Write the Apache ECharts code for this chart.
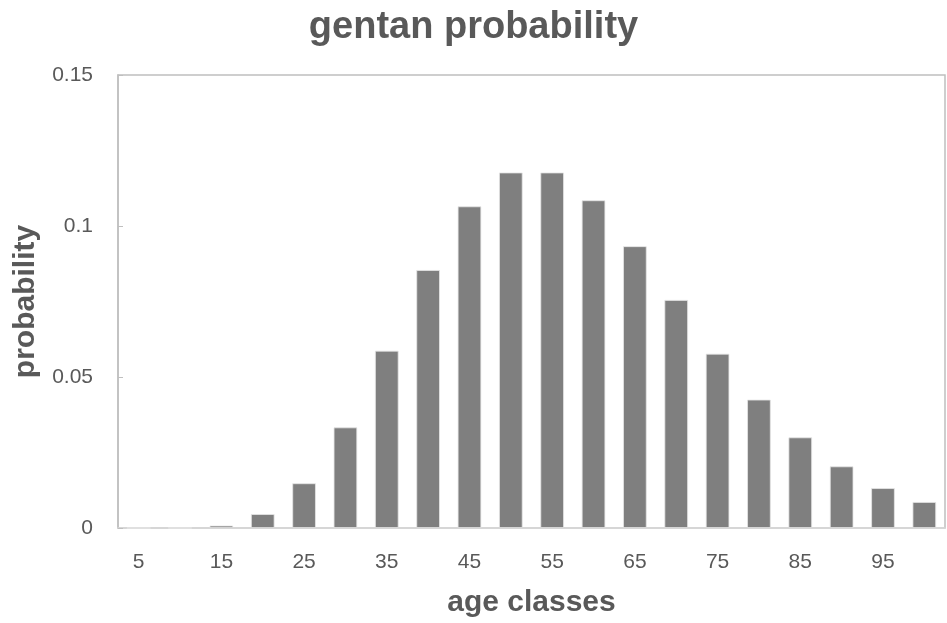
<!DOCTYPE html>
<html>
<head>
<meta charset="utf-8">
<script src="https://cdn.jsdelivr.net/npm/echarts@6/dist/echarts.min.js"></script>
<style>html,body{margin:0;padding:0;background:#fff;}#c{width:947px;height:623px;}</style>
</head>
<body>
<div id="c"></div>
<script>
var categories = ['5','10','15','20','25','30','35','40','45','50','55','60','65','70','75','80','85','90','95','100'];
var probability = [0, 0, 0.0008, 0.0046, 0.0148, 0.0333, 0.0587, 0.0854, 0.1065, 0.1177, 0.1177, 0.1085, 0.0933, 0.0755, 0.0577, 0.0425, 0.0300, 0.0204, 0.0132, 0.0086];
var titleText = 'gentan probability';
var xName = 'age classes';
var yName = 'probability';

var chart = echarts.init(document.getElementById('c'), null, {renderer: 'canvas'});
chart.setOption({
  animation: false,
  backgroundColor: '#fff',
  title: {
    text: titleText, left: 'center', top: 4,
    textStyle: {fontFamily: 'Liberation Sans', fontSize: 38, fontWeight: 'bold', color: '#595959'}
  },
  grid: {left: 118, right: 2, top: 75, bottom: 93, show: true, borderColor: '#bfbfbf', borderWidth: 1.5},
  xAxis: {
    type: 'category', data: categories,
    name: xName, nameLocation: 'middle', nameGap: 60,
    nameTextStyle: {fontFamily: 'Liberation Sans', fontSize: 30, fontWeight: 'bold', color: '#595959'},
    axisLine: {lineStyle: {color: '#d9d9d9', width: 1.5}},
    axisTick: {show: false},
    axisLabel: {interval: 1, fontFamily: 'Liberation Sans', fontSize: 21, color: '#595959', margin: 24}
  },
  yAxis: {
    type: 'value', min: 0, max: 0.15, interval: 0.05,
    name: yName, nameLocation: 'middle', nameGap: 74,
    nameTextStyle: {fontFamily: 'Liberation Sans', fontSize: 30, fontWeight: 'bold', color: '#595959'},
    axisLine: {show: true, lineStyle: {color: '#bfbfbf', width: 1.5}},
    axisTick: {show: true, inside: true, length: 5, lineStyle: {color: '#bfbfbf'}},
    splitLine: {show: false},
    axisLabel: {fontFamily: 'Liberation Sans', fontSize: 21, color: '#595959', margin: 25}
  },
  series: [{
    type: 'bar', data: probability, barCategoryGap: '43%',
    itemStyle: {color: '#7f7f7f', borderColor: '#e6e6e6', borderWidth: 0.8}
  }]
});
</script>
</body>
</html>
